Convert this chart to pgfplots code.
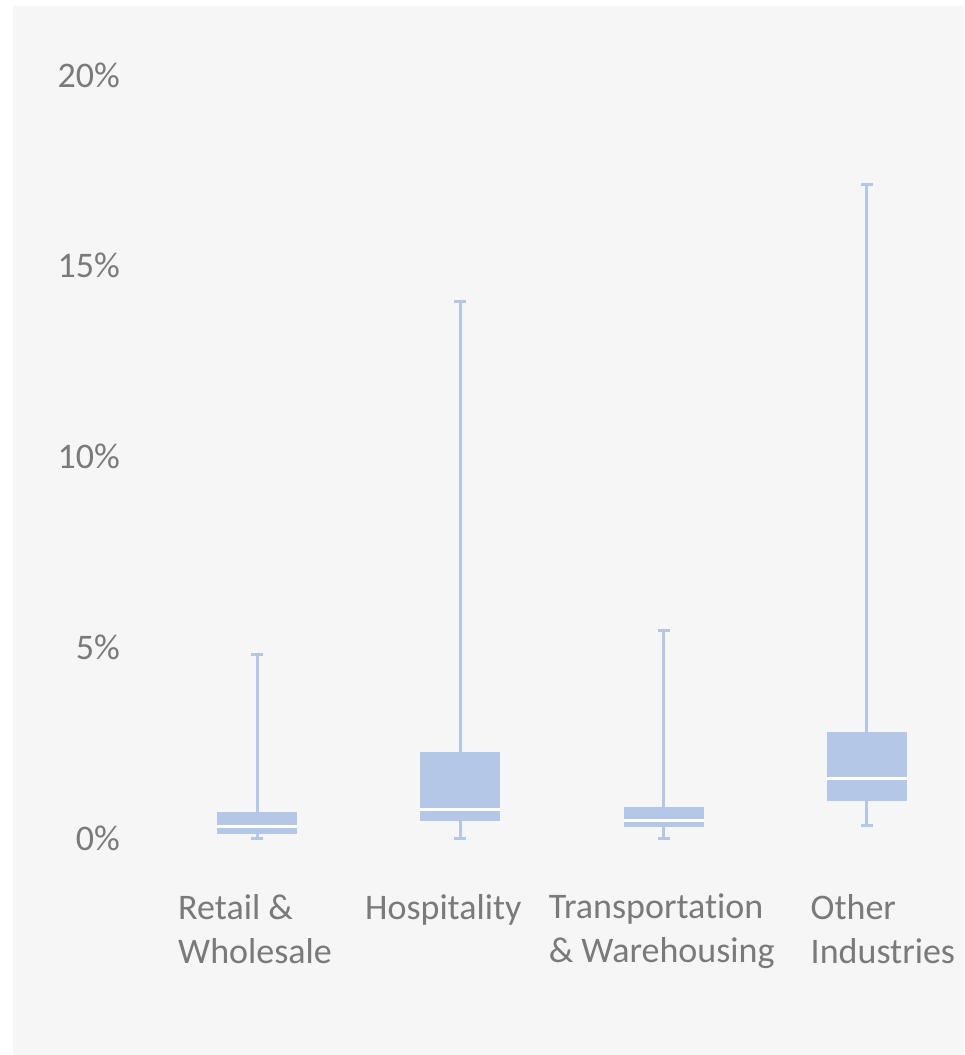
\documentclass[border=0pt]{standalone}
\usepackage{fontspec}
\setmainfont{Carlito}[Ligatures=NoCommon]
\usepackage{pgfplots}
\pgfplotsset{compat=1.18}
\usepgfplotslibrary{statistics}
\definecolor{bg}{HTML}{F6F6F6}
\definecolor{boxblue}{HTML}{B4C7E7}
\definecolor{txt}{HTML}{7A7A7A}
\pgfplotsset{
  boxplot/draw direction=y,
  boxplot/every box/.style={fill=boxblue, draw=none},
  boxplot/every whisker/.style={draw=boxblue, line width=1.5pt},
  boxplot/every median/.style={draw=white, line width=1.5pt},
}
\begin{document}
\begin{tikzpicture}
\path[use as bounding box] (-77.7pt,-108.5pt) rectangle (404.3pt,419pt);
\fill[bg] (-71.2pt,-108.5pt) rectangle (404.3pt,416pt);
\begin{axis}[
  at={(0pt,0pt)}, anchor=south west,
  scale only axis, width=401.5pt, height=381.5pt,
  xmin=-0.5, xmax=3.45, ymin=0, ymax=20,
  axis line style={draw=none},
  major tick length=0pt, tick style={draw=none},
  clip=false,
  xtick={0,1,2,3},
  xticklabels={{Retail \&\\Wholesale},{Hospitality\hspace*{15pt}},{Transportation\\\& Warehousing},{\hspace*{18pt}Other\\\hspace*{18pt}Industries}},
  ytick={0,5,10,15,20},
  yticklabel={\pgfmathprintnumber{\tick}\%},
  /pgf/number format/assume math mode=true,
  ticklabel style={font=\fontsize{18}{22}\selectfont, text=txt},
  xticklabel style={align=left, anchor=north, yshift=-24.5pt, xshift=-1pt},
  yticklabel style={anchor=east, xshift=-14.2pt},
]
\addplot[boxplot prepared={draw position=0, lower whisker=0, lower quartile=0.10, median=0.29, upper quartile=0.68, upper whisker=4.80, box extend=0.394, whisker extend=0.059}] coordinates {};
\addplot[boxplot prepared={draw position=1, lower whisker=0, lower quartile=0.45, median=0.76, upper quartile=2.25, upper whisker=14.05, box extend=0.394, whisker extend=0.059}] coordinates {};
\addplot[boxplot prepared={draw position=2, lower whisker=0, lower quartile=0.29, median=0.45, upper quartile=0.81, upper whisker=5.45, box extend=0.394, whisker extend=0.059}] coordinates {};
\addplot[boxplot prepared={draw position=3, lower whisker=0.34, lower quartile=0.97, median=1.57, upper quartile=2.78, upper whisker=17.12, box extend=0.394, whisker extend=0.059}] coordinates {};
\end{axis}
\end{tikzpicture}
\end{document}
